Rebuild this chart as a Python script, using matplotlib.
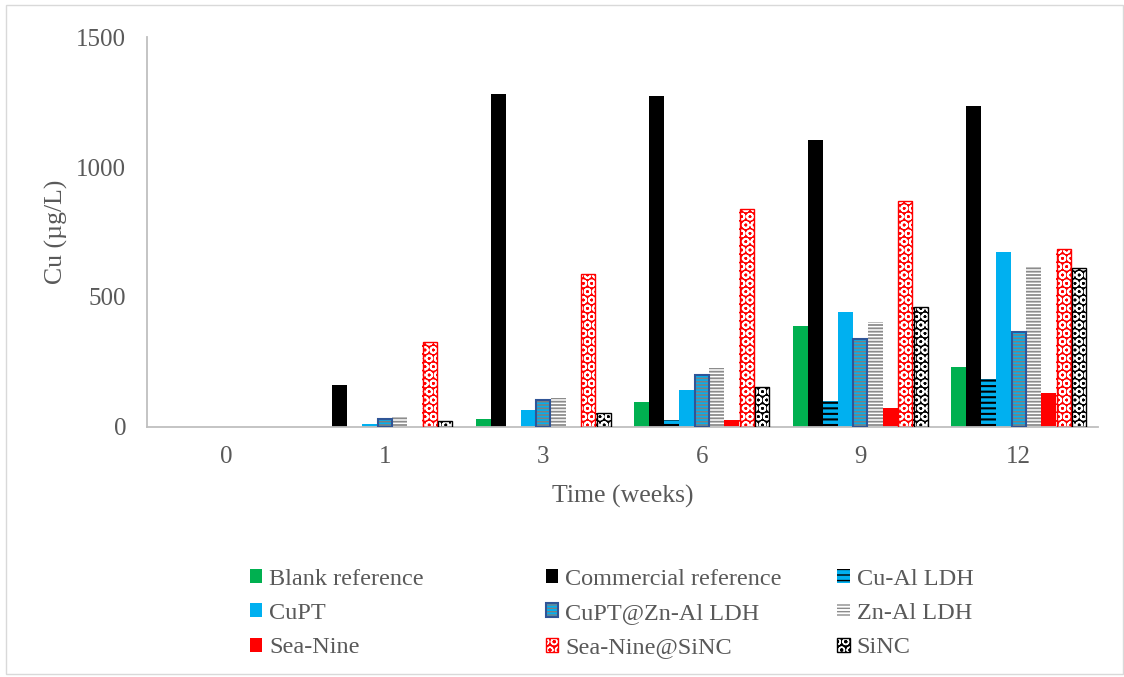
import numpy as np
import matplotlib.pyplot as plt
from matplotlib.patches import Patch, Rectangle

plt.rcParams['font.family'] = ['Liberation Serif', 'DejaVu Serif']

# Cu release per sample, by week
weeks = ['0', '1', '3', '6', '9', '12']
blank_ref = [0, 0, 31, 95, 388, 232]
commercial_ref = [0, 160, 1280, 1275, 1105, 1235]
cu_al_ldh = [0, 0, 0, 28, 101, 183]
cupt = [0, 13, 64, 142, 441, 673]
cupt_zn_al = [0, 30, 104, 200, 337, 367]
zn_al_ldh = [0, 42, 110, 226, 404, 617]
sea_nine = [0, 0, 0, 28, 73, 130]
sea_nine_sinc = [0, 325, 590, 840, 870, 685]
sinc = [0, 24, 55, 155, 463, 612]

# name, values, face, hatch, hatch colour, hatch lw, border colour, border lw
series = [
    ('Blank reference', blank_ref, '#00B050', None, None, 0, None, 0),
    ('Commercial reference', commercial_ref, '#000000', None, None, 0, None, 0),
    ('Cu-Al LDH', cu_al_ldh, '#00B0F0', '---', '#000000', 1.5, None, 0),
    ('CuPT', cupt, '#00B0F0', None, None, 0, None, 0),
    ('CuPT@Zn-Al LDH', cupt_zn_al, '#00B0F0', '-----', '#7F7F7F', 1.2, '#2F5597', 1.5),
    ('Zn-Al LDH', zn_al_ldh, '#FFFFFF', '-----', '#8C8C8C', 1.3, None, 0),
    ('Sea-Nine', sea_nine, '#FF0000', None, None, 0, None, 0),
    ('Sea-Nine@SiNC', sea_nine_sinc, '#FF0000', 'OO', '#FFFFFF', 1.3, '#FF0000', 1.0),
    ('SiNC', sinc, '#000000', 'OO', '#FFFFFF', 1.3, '#000000', 1.0),
]

txt = '#595959'
fig = plt.figure(figsize=(11.24, 6.77), dpi=100)
ax = fig.add_axes([0.1308, 0.3693, 0.8461, 0.576])

x = np.arange(len(weeks))
w = 0.095
handles = []
for i, (name, vals, face, hatch, hcol, hlw, bcol, blw) in enumerate(series):
    pos = x + (i - 4) * w
    bars = ax.bar(pos, vals, w, color=face, edgecolor=hcol if hatch else face,
                  hatch=hatch, linewidth=0, zorder=2)
    if hatch:
        for b in bars:
            if hasattr(b, 'set_hatch_linewidth'):
                b.set_hatch_linewidth(hlw)
    if bcol:
        for p, v in zip(pos, vals):
            if v > 0:
                ax.bar(p, v, w * 0.93, color='none', edgecolor=bcol,
                       linewidth=blw, zorder=3)
    h = Patch(facecolor=face, edgecolor=hcol if hatch else face, hatch=hatch, linewidth=0)
    if hatch and hasattr(h, 'set_hatch_linewidth'):
        h.set_hatch_linewidth(hlw)
    if bcol:
        h = (h, Patch(facecolor='none', edgecolor=bcol, linewidth=blw))
    handles.append((h, name))

ax.set_xlim(-0.5, 5.5)
ax.set_ylim(0, 1500)
ax.set_yticks([0, 500, 1000, 1500])
ax.set_xticks(x)
ax.set_xticklabels(weeks)
ax.tick_params(length=0, labelsize=18, labelcolor=txt)
ax.tick_params(axis='x', pad=14)
ax.tick_params(axis='y', pad=15)
for s in ['top', 'right']:
    ax.spines[s].set_visible(False)
for s in ['left', 'bottom']:
    ax.spines[s].set_color('#BFBFBF')
    ax.spines[s].set_linewidth(1.3)
ax.set_xlabel('Time (weeks)', fontsize=18.5, color=txt, labelpad=12)
ax.set_ylabel('Cu (µg/L)', fontsize=18.5, color=txt, labelpad=6)

# legend laid out as three fixed columns
col_x = [0.222, 0.4855, 0.745]
for c in range(3):
    items = handles[c::3]
    fig.legend([h for h, _ in items], [n for _, n in items],
               loc='upper left', bbox_to_anchor=(col_x[c], 0.16),
               frameon=False, fontsize=17.5, labelcolor=txt,
               handlelength=0.5, handleheight=0.5, handletextpad=0.3,
               labelspacing=0.55, borderpad=0, borderaxespad=0)

fig.patches.append(Rectangle((0.005, 0.004), 0.994, 0.989, transform=fig.transFigure,
                             fill=False, edgecolor='#D9D9D9', linewidth=1))

fig.savefig('out.png', dpi=100)
